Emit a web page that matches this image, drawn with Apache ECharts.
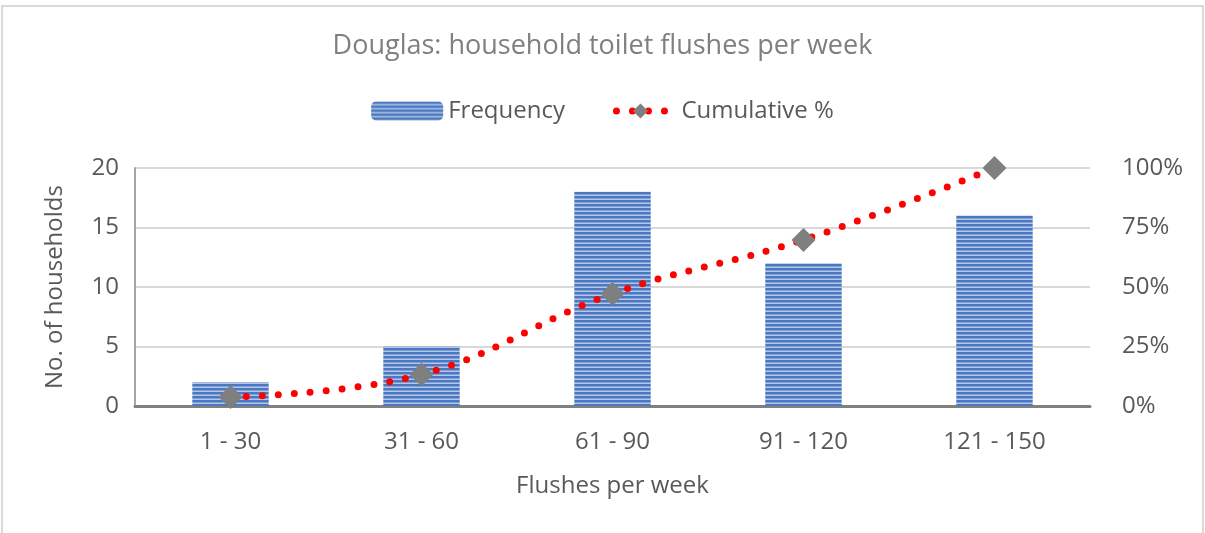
<!DOCTYPE html>
<html>
<head>
<meta charset="utf-8">
<script src="https://cdn.jsdelivr.net/npm/echarts@6/dist/echarts.min.js"></script>
<style>
  html, body { margin: 0; padding: 0; background: #fff; }
  #chart { width: 1205px; height: 533px; }
</style>
</head>
<body>
<div id="chart"></div>
<script>
var categories = ["1 - 30", "31 - 60", "61 - 90", "91 - 120", "121 - 150"];
var frequency = [2, 5, 18, 12, 16];
var cumulativePct = [3.8, 13.2, 47.2, 69.8, 100];
var leftTicks = [0, 5, 10, 15, 20];
var rightTicks = [0, 25, 50, 75, 100];

// striped fill for the bars, like the horizontal-line pattern in the original
function stripes() {
  var c = document.createElement("canvas");
  c.width = 8;
  c.height = 4;
  var g = c.getContext("2d");
  g.fillStyle = "#b4c7e7";
  g.fillRect(0, 0, 8, 4);
  g.fillStyle = "#4a78c2";
  g.fillRect(0, 0, 8, 2.5);
  return c;
}

var font = "'Open Sans', 'Noto Sans', sans-serif";
var myChart = echarts.init(document.getElementById("chart"));

var option = {
  animation: false,
  textStyle: { fontFamily: font },
  title: {
    text: "Douglas: household toilet flushes per week",
    left: "center",
    top: 28,
    textStyle: { color: "#7f7f7f", fontSize: 27, fontWeight: "normal", fontFamily: font }
  },
  legend: {
    top: 94,
    left: "center",
    itemGap: 36,
    itemWidth: 72,
    itemHeight: 19,
    textStyle: { fontSize: 24, color: "#595959", fontFamily: font },
    data: [
      { name: "Frequency" },
      {
        name: "Cumulative %",
        lineStyle: { width: 7, type: [0, 16], dashOffset: 4, cap: "round", color: "#ff0000" }
      }
    ]
  },
  graphic: [{
    type: "rect",
    shape: { x: 2, y: 6, width: 1201, height: 560 },
    style: { fill: "none", stroke: "#d9d9d9", lineWidth: 2 },
    silent: true
  }],
  grid: { left: 135, right: 115, top: 168, bottom: 127 },
  xAxis: {
    type: "category",
    data: categories,
    name: "Flushes per week",
    nameLocation: "middle",
    nameGap: 68,
    nameTextStyle: { fontSize: 24, color: "#595959" },
    axisLine: { lineStyle: { color: "#808080", width: 3 } },
    axisTick: { show: false },
    axisLabel: { fontSize: 24, color: "#595959", margin: 24 }
  },
  yAxis: [{
    type: "value",
    min: leftTicks[0],
    max: leftTicks[leftTicks.length - 1],
    interval: 5,
    name: "No. of households",
    nameLocation: "middle",
    nameGap: 68,
    nameTextStyle: { fontSize: 24, color: "#595959" },
    axisLine: { show: true, lineStyle: { color: "#a6a6a6", width: 2 } },
    axisTick: { show: false },
    axisLabel: { fontSize: 24, color: "#595959", margin: 16 },
    splitLine: { lineStyle: { color: "#d9d9d9", width: 2 } }
  }, {
    type: "value",
    min: rightTicks[0],
    max: rightTicks[rightTicks.length - 1],
    interval: 25,
    axisLine: { show: false },
    axisTick: { show: false },
    axisLabel: { fontSize: 24, color: "#595959", margin: 32, formatter: "{value}%" },
    splitLine: { show: false }
  }],
  series: [{
    name: "Frequency",
    type: "bar",
    data: frequency,
    barWidth: "40%",
    itemStyle: { color: { image: stripes(), repeat: "repeat" } }
  }, {
    name: "Cumulative %",
    type: "line",
    yAxisIndex: 1,
    data: cumulativePct,
    smooth: 0.4,
    symbol: "diamond",
    symbolSize: 24,
    itemStyle: { color: "#7f7f7f" },
    lineStyle: { color: "#ff0000", width: 7, type: [0, 16], cap: "round" },
    z: 5
  }]
};

myChart.setOption(option);
</script>
</body>
</html>
